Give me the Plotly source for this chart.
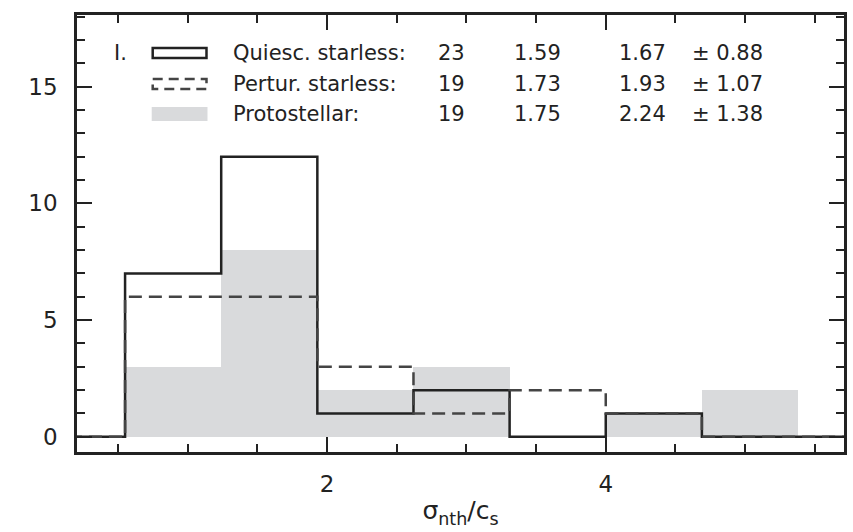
import plotly.graph_objects as go

# ---------------- data ----------------
bin_edges = [-0.14, 0.55, 1.24, 1.93, 2.62, 3.31, 4.00, 4.69, 5.38, 6.07]
quiescent = [0, 7, 12, 1, 2, 0, 1, 0, 0]
perturbed = [0, 6, 6, 3, 1, 2, 1, 0, 0]
protostellar = [0, 3, 8, 2, 3, 0, 1, 2, 0]

legend_tag = "I."
legend_names = ["Quiesc. starless:", "Pertur. starless:", "Protostellar:"]
legend_n = ["23", "19", "19"]
legend_median = ["1.59", "1.73", "1.75"]
legend_mean = ["1.67", "1.93", "2.24"]
legend_std = ["± 0.88", "± 1.07", "± 1.38"]

x_range = [0.205, 5.71]
y_range = [-0.65, 18.07]

# ---------------- layout constants ----------------
W, H = 853, 532
L, R, T, B = 77, 6, 15, 80
PW = W - L - R
PH = H - T - B
INK = "#222222"
GRAY = "#d9dadc"
FONT = "DejaVu Sans"


def px(xp):
    return (xp - L) / PW


def py(yp):
    return (H - B - yp) / PH


centers = [(a + b) / 2 for a, b in zip(bin_edges[:-1], bin_edges[1:])]
widths = [b - a for a, b in zip(bin_edges[:-1], bin_edges[1:])]


def step_xy(counts):
    return list(bin_edges), list(counts) + [counts[-1]]


fig = go.Figure()

fig.add_trace(go.Bar(x=centers, y=protostellar, width=widths,
                     marker=dict(color=GRAY, line=dict(width=0)),
                     showlegend=False))

qx, qy = step_xy(quiescent)
fig.add_trace(go.Scatter(x=qx, y=qy, mode="lines", line_shape="hv",
                         line=dict(color=INK, width=2.5), showlegend=False))

px_, py_ = step_xy(perturbed)
fig.add_trace(go.Scatter(x=px_, y=py_, mode="lines", line_shape="hv",
                         line=dict(color="#444444", width=2.5, dash="13px,7px"),
                         showlegend=False))

# ---------------- legend (table style) ----------------
rows_y = [53, 84, 114]
font = dict(family=FONT, size=21, color=INK)
shapes = []
annotations = []
annotations.append(dict(x=px(112), y=py(rows_y[0]), xref="paper", yref="paper",
                        text=legend_tag, showarrow=False, xanchor="left",
                        yanchor="middle", font=font))
# symbols
shapes.append(dict(type="rect", xref="paper", yref="paper",
                   x0=px(153), x1=px(207), y0=py(48), y1=py(58),
                   line=dict(color=INK, width=2.5), fillcolor="rgba(0,0,0,0)"))
shapes.append(dict(type="rect", xref="paper", yref="paper",
                   x0=px(153), x1=px(207), y0=py(79), y1=py(89),
                   line=dict(color="#444444", width=2.5, dash="10px,6px"),
                   fillcolor="rgba(0,0,0,0)"))
shapes.append(dict(type="rect", xref="paper", yref="paper",
                   x0=px(152), x1=px(208), y0=py(107), y1=py(121),
                   line=dict(width=0), fillcolor=GRAY))
cols = [(232, legend_names), (437, legend_n), (514, legend_median),
        (619, legend_mean), (692, legend_std)]
for xcol, vals in cols:
    for yr, v in zip(rows_y, vals):
        annotations.append(dict(x=px(xcol), y=py(yr), xref="paper", yref="paper",
                                text=v, showarrow=False, xanchor="left",
                                yanchor="middle", font=font))

axis_common = dict(showline=True, linecolor=INK, linewidth=2.5, mirror="allticks",
                   ticks="inside", tickcolor=INK, tickwidth=2, ticklen=15,
                   showgrid=False, zeroline=False,
                   tickfont=dict(family=FONT, size=23, color=INK))

fig.update_layout(
    width=W, height=H,
    margin=dict(l=L, r=R, t=T, b=B),
    plot_bgcolor="white", paper_bgcolor="white",
    barmode="overlay", bargap=0,
    shapes=shapes, annotations=annotations,
    xaxis=dict(range=x_range, tick0=0, dtick=2, ticklabelstandoff=10,
               minor=dict(dtick=0.5, ticklen=8, tickwidth=2, tickcolor=INK, ticks="inside"),
               title=dict(text="σ<sub>nth</sub>/c<sub>s</sub>",
                          font=dict(family=FONT, size=25, color=INK), standoff=6),
               **axis_common),
    yaxis=dict(range=y_range, tick0=0, dtick=5, ticklabelstandoff=12,
               minor=dict(dtick=1, ticklen=8, tickwidth=2, tickcolor=INK, ticks="inside"),
               **axis_common),
)

fig.write_html("out.html")
